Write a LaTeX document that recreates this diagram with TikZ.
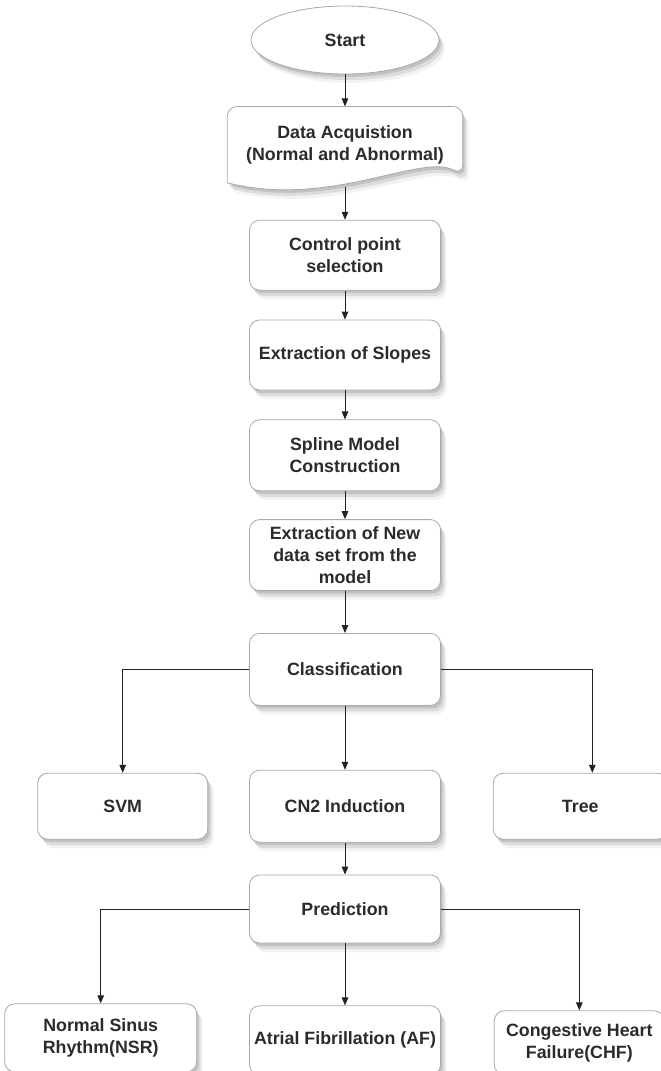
\documentclass[tikz,border=0pt]{standalone}
\usepackage{fontspec}
\setmainfont{Liberation Sans}
\usepackage{tikz}
\usetikzlibrary{
    arrows.meta,
    positioning,
    calc,
    shapes.geometric,
    shadows,
    backgrounds
}
\definecolor{boxline}{HTML}{A8A8A8}
\definecolor{boxtext}{HTML}{2B2B2B}
\definecolor{flowline}{HTML}{222222}
\tikzset{
    softshadow/.style={
        drop shadow={shadow xshift=2pt, shadow yshift=-3pt, opacity=0.12, fill=black},
        drop shadow={shadow xshift=4pt, shadow yshift=-6pt, opacity=0.09, fill=black},
        drop shadow={shadow xshift=6pt, shadow yshift=-9pt, opacity=0.05, fill=black}
    }
}
\tikzset{
    flowbox/.style={
        draw=boxline,
        line width=0.8pt,
        fill=white,
        rounded corners=10pt,
        minimum width=191pt,
        minimum height=70pt,
        inner sep=3pt,
        align=center,
        softshadow
    }
}
\tikzset{
    startnode/.style={
        ellipse,
        draw=boxline,
        line width=0.8pt,
        fill=white,
        minimum width=188pt,
        minimum height=68pt,
        inner sep=1pt,
        softshadow
    }
}
\tikzset{
    docnode/.style={
        minimum width=235pt,
        minimum height=76pt,
        inner sep=3pt,
        align=center
    }
}
\tikzset{
    docshape/.style={
        draw=boxline,
        line width=0.8pt,
        fill=white,
        softshadow
    }
}
\tikzset{
    flowarrow/.style={
        draw=flowline,
        line width=1pt,
        -{Triangle[length=8pt,width=6.5pt]}
    }
}

\begin{document}
\begin{tikzpicture}[
    x=1pt,
    y=-1pt,
    font=\bfseries\fontsize{17.8pt}{22pt}\selectfont,
    text=boxtext
]

\useasboundingbox (0,0) rectangle (661,1071);

% ------------------------------------------------------------
% Main column
% ------------------------------------------------------------

\node[startnode] (start) at (345,40) {Start};

\node[docnode, below=32pt of start] (data)
    {Data Acquistion\\(Normal and Abnormal)};

\node[flowbox, below=37pt of data] (ctrl)
    {Control point\\selection};

\node[flowbox, below=29pt of ctrl] (slopes)
    {Extraction of Slopes};

\node[flowbox, below=29pt of slopes, minimum height=71pt] (spline)
    {Spline Model\\Construction};

\node[flowbox, below=28pt of spline, minimum height=71pt] (newdata)
    {Extraction of New\\data set from the\\model};

\node[flowbox, below=42pt of newdata, minimum height=72pt] (classif)
    {Classification};

% ------------------------------------------------------------
% Classifiers
% ------------------------------------------------------------

\node[flowbox, below=64pt of classif, minimum height=72pt] (cn2)
    {CN2 Induction};

\node[flowbox, left=41pt of cn2, minimum width=170pt, minimum height=66pt] (svm)
    {SVM};

\node[flowbox, right=52pt of cn2, minimum width=174pt, minimum height=66pt] (tree)
    {Tree};

% ------------------------------------------------------------
% Prediction and classes
% ------------------------------------------------------------

\node[flowbox, below=32pt of cn2, minimum height=68pt] (predict)
    {Prediction};

\node[flowbox, below=62pt of predict, minimum height=69pt] (af)
    {Atrial Fibrillation (AF)};

\node[flowbox, left=52pt of af, yshift=2.5pt, minimum width=192pt, minimum height=68pt] (nsr)
    {Normal Sinus\\Rhythm(NSR)};

\node[flowbox, right=53pt of af, yshift=-2.5pt, minimum width=170pt, minimum height=64pt] (chf)
    {Congestive Heart\\Failure(CHF)};

% ------------------------------------------------------------
% Document shape behind the data node
% ------------------------------------------------------------

\begin{scope}[on background layer]
\path[docshape, rounded corners=10pt]
    (data.south west)
    -- (data.north west)
    -- (data.north east)
    -- ([yshift=8pt]data.south east)
    [sharp corners]
    .. controls ([shift={(-42pt,30pt)}]data.south east)
    and ([shift={(103pt,-26pt)}]data.south west) ..
    (data.south west) -- cycle;
\end{scope}

% ------------------------------------------------------------
% Connectors
% ------------------------------------------------------------

\draw[flowarrow] (start) -- (data);
\draw[flowarrow] ([yshift=-4pt]data.south) -- (ctrl);
\draw[flowarrow] (ctrl) -- (slopes);
\draw[flowarrow] (slopes) -- (spline);
\draw[flowarrow] (spline) -- (newdata);
\draw[flowarrow] (newdata) -- (classif);

\draw[flowarrow] (classif.west) -| (svm.north);
\draw[flowarrow] (classif) -- (cn2);
\draw[flowarrow] (classif.east) -| ([xshift=12pt]tree.north);

\draw[flowarrow] (cn2) -- (predict);

\draw[flowarrow] (predict.west) -| (nsr.north);
\draw[flowarrow] (predict) -- (af);
\draw[flowarrow] (predict.east) -| (chf.north);

\end{tikzpicture}
\end{document}
